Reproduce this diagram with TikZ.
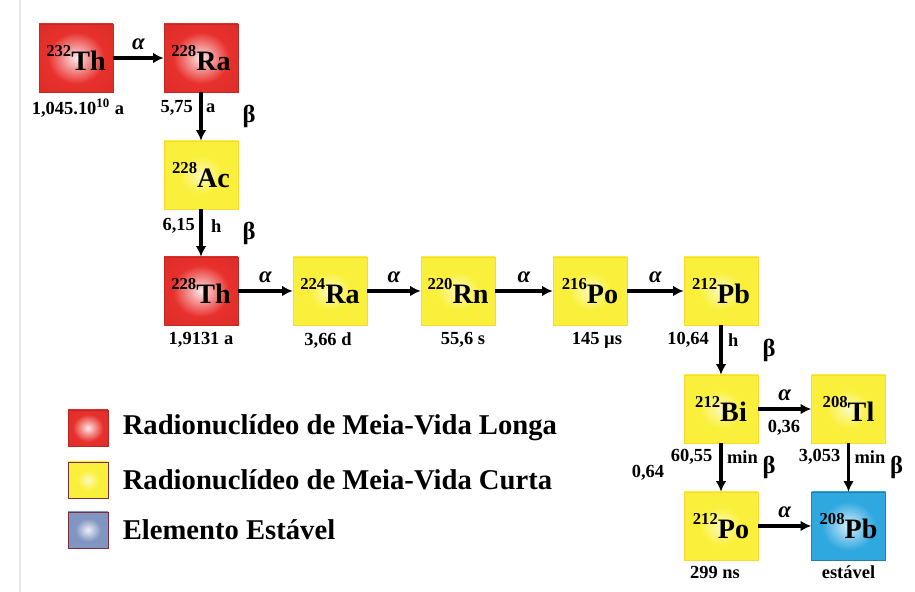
\documentclass[tikz,border=0pt]{standalone}
\usepackage{fontspec}
\setmainfont{Liberation Serif}
\usepackage{xcolor}
\usetikzlibrary{arrows.meta,positioning,calc}
\definecolor{longcol}{HTML}{E8302C}
\definecolor{shortcol}{HTML}{FAF03C}
\definecolor{stablecol}{HTML}{2FA8E0}
\definecolor{keyblue}{HTML}{8095C2}
\definecolor{keyedge}{HTML}{7A2E3E}
\definecolor{rulegrey}{HTML}{E6E6E6}
% glowing fills for the nuclide boxes
\pgfdeclareradialshading{longglow}{\pgfpoint{0bp}{0bp}}{color(0bp)=(white!90!longcol); color(7bp)=(white!55!longcol); color(19bp)=(longcol); color(50bp)=(longcol!90!black)}
\pgfdeclareradialshading{shortglow}{\pgfpoint{0bp}{0bp}}{color(0bp)=(white!65!shortcol); color(14bp)=(shortcol); color(50bp)=(shortcol)}
\pgfdeclareradialshading{stableglow}{\pgfpoint{0bp}{0bp}}{color(0bp)=(white!80!stablecol); color(18bp)=(stablecol); color(50bp)=(stablecol)}
\pgfdeclareradialshading{keyglow}{\pgfpoint{0bp}{0bp}}{color(0bp)=(white!85!keyblue); color(16bp)=(keyblue); color(50bp)=(keyblue)}
\newcommand{\nuc}[2]{\raisebox{0.5em}{\fontsize{9.5}{10}\selectfont #1}#2}

\begin{document}
\begin{tikzpicture}[
  elem/.style={minimum width=1.48cm,minimum height=1.36cm,inner sep=0pt,
               font=\fontsize{16}{18}\selectfont\bfseries,shade,line width=0.3pt},
  long/.style={elem,shading=longglow,draw=longcol!85!black},
  short/.style={elem,shading=shortglow,draw=shortcol!80!orange},
  stable/.style={elem,shading=stableglow,draw=stablecol!75!black},
  hl/.style={font=\fontsize{10.5}{12}\selectfont\bfseries,inner sep=1pt},
  decay/.style={-{Latex[length=6pt,width=6pt]},line width=1.8pt},
  alp/.style={font=\fontsize{13}{15}\selectfont\bfseries\itshape,yshift=0.28cm},
  bet/.style={font=\fontsize{14}{16}\selectfont\bfseries,xshift=0.96cm},
  key/.style={minimum width=0.8cm,minimum height=0.72cm,inner sep=0pt,shade,line width=0.5pt},
  keytext/.style={font=\fontsize{16.3}{19}\selectfont\bfseries,inner sep=0pt},
]
\useasboundingbox (0,0) rectangle (18.3,11.84);
\draw[rulegrey,line width=1pt] (0.4,0) -- (0.4,11.84);

% the chain
\node[long] (th232) at (1.52,10.68) {\nuc{232}{Th}};
\node[long] (ra228) at (4.02,10.68) {\nuc{228}{Ra}};
\node[short] (ac228) at (4.02,8.34) {\nuc{228}{Ac}};
\node[long] (th228) at (4.02,6.02) {\nuc{228}{Th}};
\node[short] (ra224) at (6.60,6.02) {\nuc{224}{Ra}};
\node[short] (rn220) at (9.16,6.02) {\nuc{220}{Rn}};
\node[short] (po216) at (11.80,6.02) {\nuc{216}{Po}};
\node[short] (pb212) at (14.42,6.02) {\nuc{212}{Pb}};
\node[short] (bi212) at (14.42,3.66) {\nuc{212}{Bi}};
\node[short] (tl208) at (16.97,3.66) {\nuc{208}{Tl}};
\node[short] (po212) at (14.42,1.32) {\nuc{212}{Po}};
\node[stable] (pb208) at (16.97,1.32) {\nuc{208}{Pb}};

\draw[decay] (th232) -- node[alp] (a1) {α} (ra228);
\draw[decay] (ra228) -- node[bet] (b1) {β} (ac228);
\draw[decay] (ac228) -- node[bet] (b2) {β} (th228);
\draw[decay] (th228) -- node[alp] (a2) {α} (ra224);
\draw[decay] (ra224) -- node[alp] (a3) {α} (rn220);
\draw[decay] (rn220) -- node[alp] (a4) {α} (po216);
\draw[decay] (po216) -- node[alp] (a5) {α} (pb212);
\draw[decay] (pb212) -- node[bet] (b3) {β} (bi212);
\draw[decay] (bi212) -- node[alp] (a6) {α} (tl208);
\draw[decay] (bi212) -- node[bet] (b4) {β} (po212);
\draw[decay] (tl208) -- node[bet] (b5) {β} (pb208);
\draw[decay] (po212) -- node[alp] (a7) {α} (pb208);

% half-lives
\node[hl] (t1) at ($(th232.south)+(0.04,-0.32)$) {1,045.10\textsuperscript{10} a};
\node[hl,anchor=east] (t2) at ($(ra228.south)+(-0.12,-0.32)$) {5,75};
\node[hl,anchor=west] (t2u) at ($(ra228.south)+(0.06,-0.32)$) {a};
\node[hl,anchor=east] (t3) at ($(ac228.south)+(-0.08,-0.34)$) {6,15};
\node[hl,anchor=west] (t3u) at ($(ac228.south)+(0.16,-0.34)$) {h};
\node[hl] (t4) at ($(th228.south)+(0,-0.3)$) {1,9131 a};
\node[hl] (t5) at ($(ra224.south)+(-0.04,-0.3)$) {3,66 d};
\node[hl] (t6) at ($(rn220.south)+(0.1,-0.3)$) {55,6 s};
\node[hl] (t7) at ($(po216.south)+(0.14,-0.3)$) {145 µs};
\node[hl,anchor=east] (t8) at ($(pb212.south)+(-0.2,-0.3)$) {10,64};
\node[hl,anchor=west] (t8u) at ($(pb212.south)+(0.1,-0.3)$) {h};
\node[hl,anchor=east] (t9) at ($(bi212.south)+(-0.13,-0.28)$) {60,55};
\node[hl,anchor=west] (t9u) at ($(bi212.south)+(0.08,-0.28)$) {min};
\node[hl,anchor=east] (t10) at ($(tl208.south)+(-0.12,-0.28)$) {3,053};
\node[hl,anchor=west] (t10u) at ($(tl208.south)+(0.08,-0.28)$) {min};
\node[hl] (t11) at ($(po212.south)+(-0.12,-0.24)$) {299 ns};
\node[hl] (t12) at ($(pb208.south)+(0,-0.24)$) {estável};

% branching ratios of 212Bi
\node[hl] (br64) at (12.96,2.38) {0,64};
\node[hl] (br36) at (15.68,3.28) {0,36};

% legend
\node[key,shading=longglow,draw=longcol!80!black] (k1) at (1.76,3.28) {};
\node[key,shading=shortglow,draw=keyedge] (k2) at (1.76,2.24) {};
\node[key,shading=keyglow,draw=keyedge] (k3) at (1.76,1.24) {};
\node[keytext,right=0.28cm of k1] (kt1) {Radionuclídeo de Meia-Vida Longa};
\node[keytext,right=0.28cm of k2] (kt2) {Radionuclídeo de Meia-Vida Curta};
\node[keytext,right=0.28cm of k3] (kt3) {Elemento Estável};
\end{tikzpicture}
\end{document}
